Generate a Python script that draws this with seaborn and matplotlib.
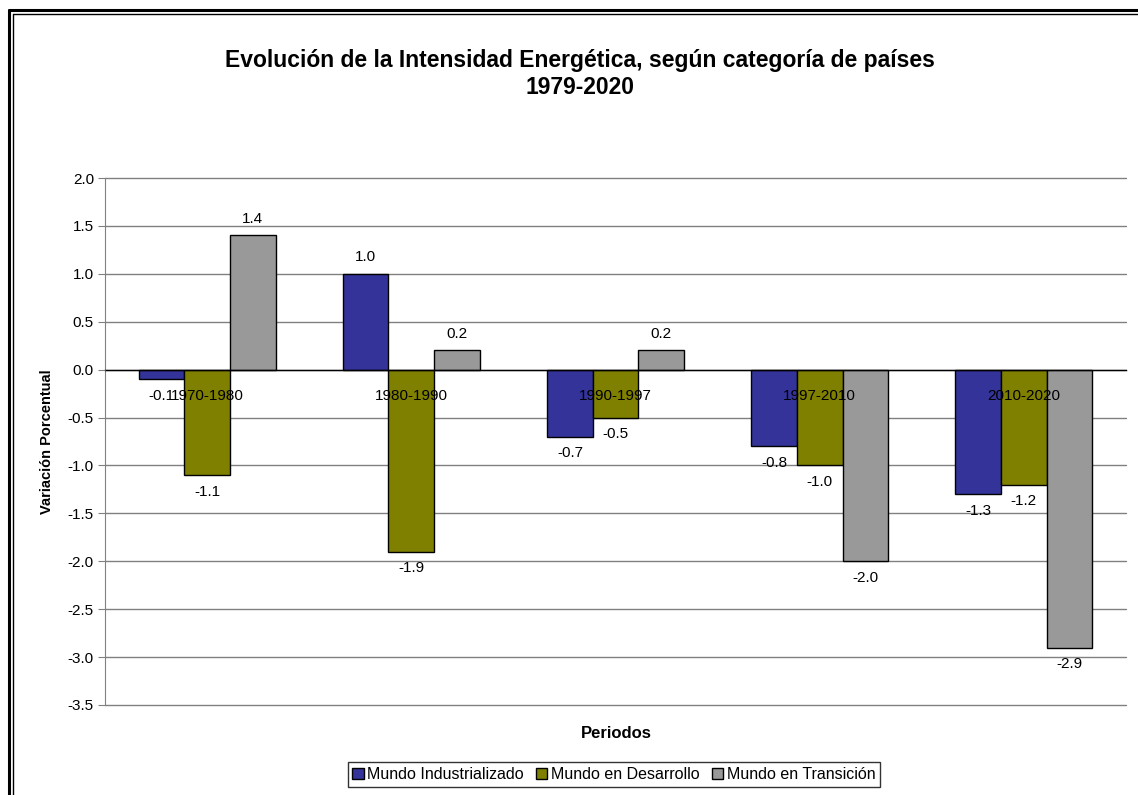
import matplotlib
matplotlib.use("Agg")
import matplotlib.pyplot as plt
from matplotlib.lines import Line2D
import seaborn as sns
import pandas as pd

periodos = ["1970-1980", "1980-1990", "1990-1997", "1997-2010", "2010-2020"]
series = ["Mundo Industrializado", "Mundo en Desarrollo", "Mundo en Transición"]
industrializado = [-0.1, 1.0, -0.7, -0.8, -1.3]
desarrollo = [-1.1, -1.9, -0.5, -1.0, -1.2]
transicion = [1.4, 0.2, 0.2, -2.0, -2.9]
colores = ["#333399", "#808000", "#999999"]
yticks = [2.0, 1.5, 1.0, 0.5, 0.0, -0.5, -1.0, -1.5, -2.0, -2.5, -3.0, -3.5]

rows = []
for name, vals in zip(series, [industrializado, desarrollo, transicion]):
    for p, v in zip(periodos, vals):
        rows.append({"Periodo": p, "Serie": name, "Valor": v})
df = pd.DataFrame(rows)

sns.set_style("white")
plt.rcParams["font.family"] = ["Liberation Sans", "DejaVu Sans"]
plt.rcParams["text.color"] = "black"
plt.rcParams["axes.labelcolor"] = "black"
plt.rcParams["xtick.color"] = "black"
plt.rcParams["ytick.color"] = "black"

W, H = 1138, 795
fig = plt.figure(figsize=(W / 100, H / 100), dpi=100)
ax = fig.add_axes([105 / W, 1 - 705 / H, (1126 - 105) / W, (705 - 178) / H])

sns.barplot(data=df, x="Periodo", y="Valor", hue="Serie", order=periodos,
            hue_order=series, palette=colores, width=0.67, saturation=1,
            edgecolor="black", linewidth=1, ax=ax, legend=True, zorder=2)

ax.set_axisbelow(False)
ax.set_ylim(-3.5, 2.0)
ax.set_xlim(-0.5, 4.5)
ax.set_yticks(yticks)
ax.set_yticklabels([f"{t:.1f}" for t in yticks], fontsize=11, color="black")
for t in yticks:
    ax.axhline(t, color="#808080", lw=1, zorder=1, clip_on=False)

for c in ax.containers:
    ax.bar_label(c, fmt="%.1f", padding=7, fontsize=11, zorder=5, color="black")

# x-axis at zero
ax.spines["bottom"].set_position(("data", 0))
ax.spines["bottom"].set_color("#000000")
ax.spines["bottom"].set_linewidth(1)
ax.spines["top"].set_visible(False)
ax.spines["right"].set_visible(False)
ax.spines["left"].set_color("#808080")
ax.set_xticks(range(len(periodos)))
ax.set_xticklabels(periodos, fontsize=11, color="black")
ax.tick_params(axis="x", which="major", length=0, pad=14)
ax.set_xticks([0.5, 1.5, 2.5, 3.5], minor=True)
ax.tick_params(axis="x", which="minor", length=4, direction="out", color="#000000")
ax.tick_params(axis="y", length=5, direction="out", color="#808080", left=True, pad=3)

ax.set_xlabel("")
ax.set_ylabel("Variación Porcentual", fontsize=10.5, fontweight="bold", color="black")
ax.yaxis.set_label_coords(-(105 - 54) / (1126 - 105), 0.5)

fig.text(580 / W, 1 - 74 / H, "Evolución de la Intensidad Energética, según categoría de países\n1979-2020",
         ha="center", va="center", fontsize=16.5, fontweight="bold", linespacing=1.25, color="black")
fig.text(616 / W, 1 - 734 / H, "Periodos", ha="center", va="center", fontsize=12, fontweight="bold", color="black")

handles, labels = ax.get_legend_handles_labels()
ax.get_legend().remove()
leg = fig.legend(handles, labels, loc="center", bbox_to_anchor=(614 / W, 1 - 774.5 / H),
                 ncol=3, fontsize=11.5, frameon=True, fancybox=False, edgecolor="black",
                 handlelength=0.7, handleheight=0.7, handletextpad=0.25, columnspacing=0.75,
                 borderpad=0.3, borderaxespad=0, labelcolor="black")
leg.get_frame().set_linewidth(1)

# outer double frame (left and top visible)
fig.add_artist(Line2D([9 / W, 9 / W], [0, 1 - 10 / H], transform=fig.transFigure, color="black", lw=2.2))
fig.add_artist(Line2D([9 / W, 1], [1 - 10 / H, 1 - 10 / H], transform=fig.transFigure, color="black", lw=2.2))
fig.add_artist(Line2D([12.5 / W, 12.5 / W], [0, 1 - 13.5 / H], transform=fig.transFigure, color="black", lw=1))
fig.add_artist(Line2D([12.5 / W, 1], [1 - 13.5 / H, 1 - 13.5 / H], transform=fig.transFigure, color="black", lw=1))

fig.savefig("out.png", dpi=100)
